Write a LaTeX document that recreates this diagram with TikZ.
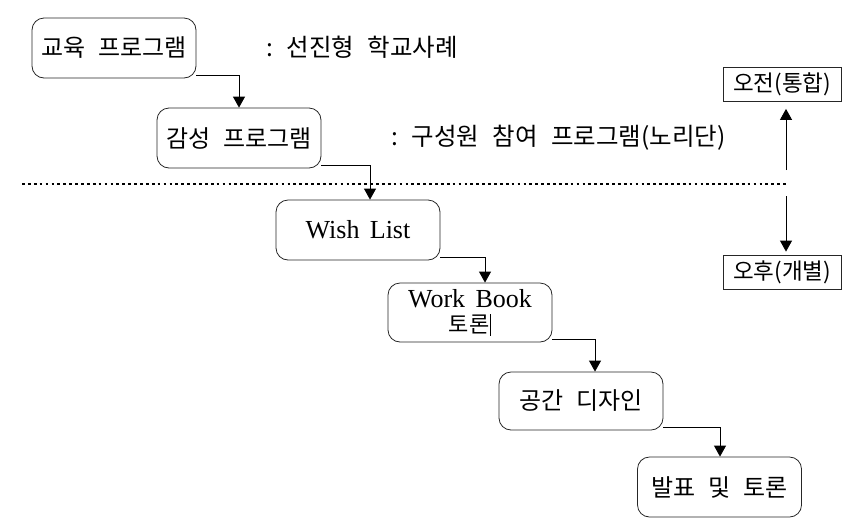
\documentclass[tikz,border=0pt]{standalone}
\usepackage{fontspec}
\setmainfont{Liberation Serif}
\newfontfamily\kr{Noto Sans CJK KR}
\newcommand\ksp{\hspace{0.55em}}
\usetikzlibrary{arrows.meta,calc}
\begin{document}
\begin{tikzpicture}[x=1pt,y=-1pt,
  rbox/.style={draw=black!85,rounded corners=12pt,line width=0.8pt,align=center,inner sep=0pt,
    minimum width=164pt,minimum height=60pt,font=\kr\fontsize{24}{28}\selectfont},
  sbox/.style={draw=black!85,line width=0.8pt,inner sep=0pt,minimum width=118pt,minimum height=34pt,
    font=\kr\fontsize{22.5}{24}\selectfont},
  arr/.style={line width=0.9pt,-{Triangle[length=11pt,width=12pt]}},
  lbl/.style={anchor=west,inner sep=0pt,font=\kr\fontsize{24.5}{28}\selectfont}]
\useasboundingbox (0,0) rectangle (856,523);
% flow boxes
\node[rbox] (b1) at (114,48) {교육\ksp 프로그램};
\node[rbox] (b2) at (239,138) {감성\ksp 프로그램};
\node[rbox] (b3) at (358,230) {\fontsize{26}{28}\selectfont\rmfamily Wish\hspace{0.15em} List};
\node[rbox,minimum height=59pt] (b4) at (470,312.5) {\fontsize{26}{27}\selectfont\rmfamily Work\hspace{0.15em} Book\\[-3pt]
  \kr\fontsize{22}{24}\selectfont 토론\kern1pt\rule[-3pt]{0.6pt}{22pt}};
\node[rbox,minimum height=58pt] (b5) at (581,401) {공간\ksp 디자인};
\node[rbox] (b6) at (719.5,487) {발표\ksp 및\ksp 토론};
% labels
\node[lbl] (l1) at (266,47) {:\ksp 선진형\ksp 학교사례};
\node[lbl] (l2) at (391,138) {:\ksp 구성원\ksp 참여\ksp 프로그램(노리단)};
% right boxes
\node[sbox] (am) at (782,84.5) {오전(통합)};
\node[sbox] (pm) at (782,272) {오후(개별)};
% dotted separator
\coordinate (dL) at (22,184);
\coordinate (dR) at (788,184);
\draw[line width=2pt,dash pattern=on 2.7pt off 3.2pt] (dL) -- (dR);
% connectors
\draw[arr] ([yshift=3pt]b1.south east) -| (b2.north);
\draw[arr] ([yshift=3pt]b2.south east) -| ([xshift=12pt]b3.north);
\draw[arr] ([yshift=3pt]b3.south east) -| ([xshift=15pt]b4.north);
\draw[arr] ([yshift=3pt]b4.south east) -| ([xshift=14pt]b5.north);
\draw[arr] ([yshift=3pt]b5.south east) -| ([xshift=0.5pt]b6.north);
% vertical arrows
\coordinate (mU) at (786,170);
\coordinate (mD) at (786,196);
\draw[arr] (mU) -- ([yshift=-7pt]mU |- am.south);
\draw[arr] (mD) -- ([yshift=3pt]mD |- pm.north);
\end{tikzpicture}
\end{document}
